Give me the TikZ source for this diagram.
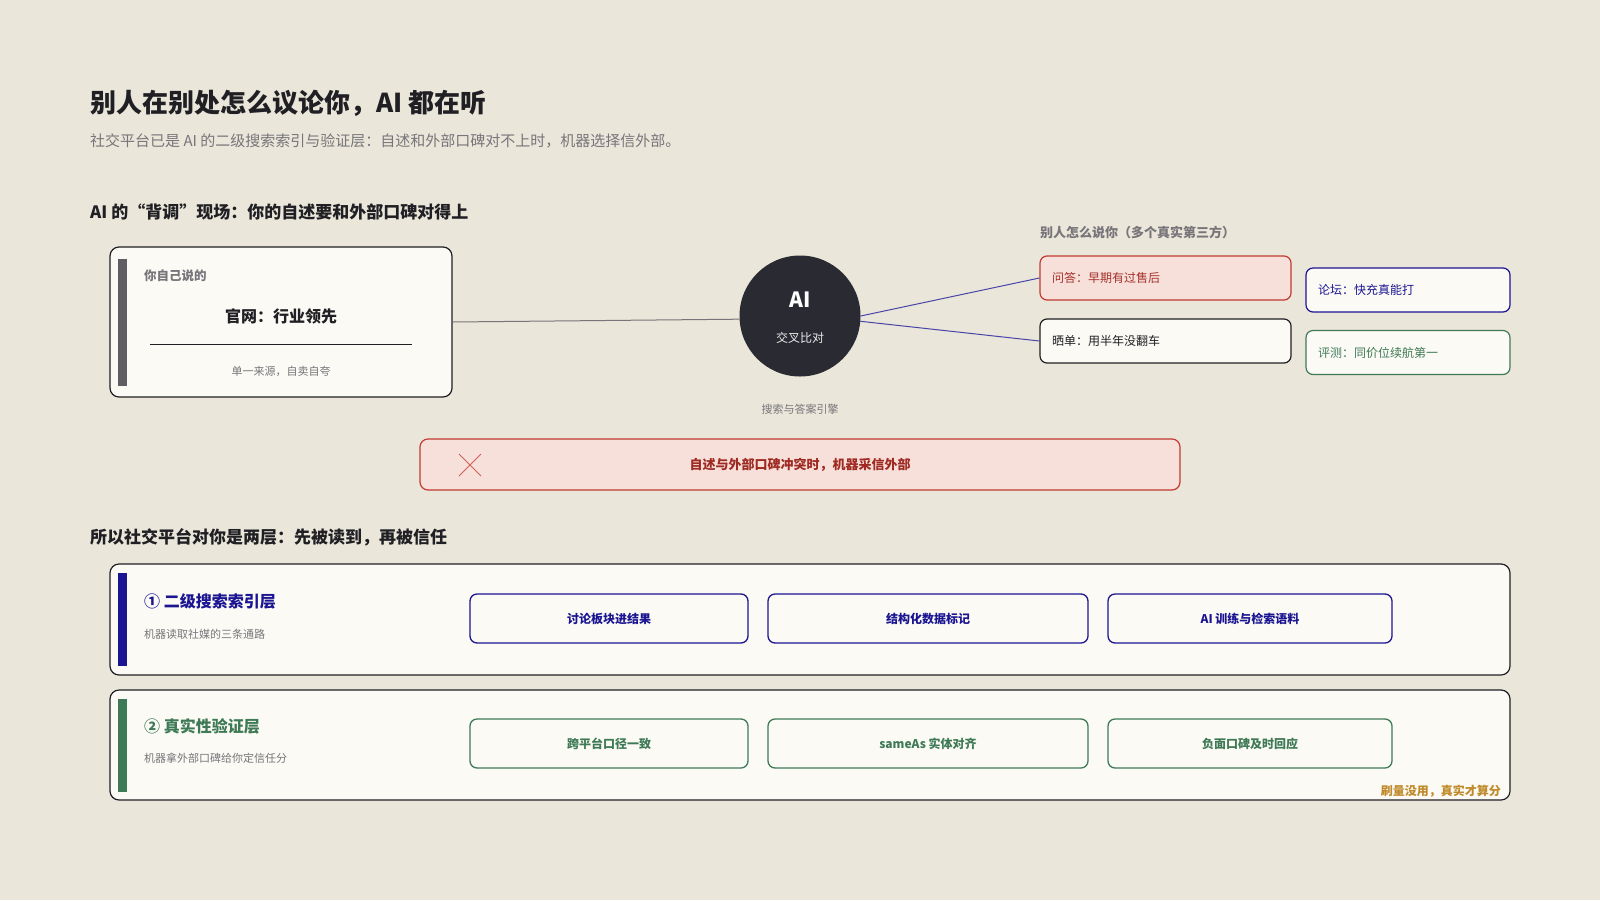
\documentclass[tikz,border=0pt]{standalone}
\usepackage{fontspec}
\setmainfont{Noto Sans CJK SC}
\definecolor{bg}{HTML}{EAE6DA}
\definecolor{card}{HTML}{FBFAF5}
\definecolor{ink}{HTML}{1F1F24}
\definecolor{muted}{HTML}{77757A}
\definecolor{bluec}{HTML}{1B1592}
\definecolor{greenc}{HTML}{3F7A56}
\definecolor{redc}{HTML}{C23A32}
\definecolor{redfill}{HTML}{F7DFDA}
\definecolor{redtext}{HTML}{9E2A22}
\definecolor{darkc}{HTML}{2A2A33}
\definecolor{barg}{HTML}{5F5E63}
\definecolor{gold}{HTML}{C08A2A}
\tikzset{
  card/.style={draw=ink, line width=1.2pt, fill=card, rounded corners=9pt, inner sep=0pt},
  pill/.style={line width=1.2pt, fill=card, rounded corners=7pt, inner sep=0pt, minimum height=44pt, font=\fontsize{12}{14}\selectfont},
  subbox/.style={line width=1.3pt, fill=card, rounded corners=7pt, inner sep=0pt, minimum height=49pt, font=\bfseries\fontsize{12}{14}\selectfont},
  lbl/.style={inner sep=0pt, anchor=west},
}
\begin{document}
\begin{tikzpicture}[x=1pt,y=-1pt]
\fill[bg] (0,0) rectangle (1600,900);
\useasboundingbox (0,0) rectangle (1600,900);

% titles
\node[lbl, font=\bfseries\fontsize{26}{30}\selectfont, text=ink] (title) at (90,103) {别人在别处怎么议论你，AI 都在听};
\node[lbl, font=\fontsize{15}{18}\selectfont, text=muted] (subtitle) at (90,141) {社交平台已是 AI 的二级搜索索引与验证层：自述和外部口碑对不上时，机器选择信外部。};
\node[lbl, font=\bfseries\fontsize{17}{20}\selectfont, text=ink] (h1) at (90,212) {AI 的“背调”现场：你的自述要和外部口碑对得上};

% left card
\node[card, minimum width=342pt, minimum height=150pt] (self) at (281,322) {};
\fill[barg] (118,259) rectangle (127,386);
\node[lbl, font=\bfseries\fontsize{12.5}{14}\selectfont, text=muted] (selflbl) at (144,276) {你自己说的};
\node[inner sep=0pt, font=\bfseries\fontsize{16}{19}\selectfont, text=ink] (selfmain) at (281,316) {官网：行业领先};
\draw[ink, line width=1pt] (150,344) -- (412,344);
\node[inner sep=0pt, font=\fontsize{11}{13}\selectfont, text=muted] (selfnote) at (281,371) {单一来源，自卖自夸};

% AI circle
\node[circle, fill=darkc, minimum size=121pt, inner sep=0pt] (ai) at (800,316) {};
\node[inner sep=0pt, font=\bfseries\fontsize{21}{24}\selectfont, text=white] (aititle) at (800,300) {AI};
\node[inner sep=0pt, font=\fontsize{12}{14}\selectfont, text=white!85!gray] (aisub) at (800,338) {交叉比对};
\node[inner sep=0pt, font=\fontsize{11}{13}\selectfont, text=muted] (aieng) at (800,409) {搜索与答案引擎};

% right side
\node[lbl, font=\bfseries\fontsize{13}{15}\selectfont, text=muted] (othershdr) at (1040,232) {别人怎么说你（多个真实第三方）};
\node[pill, draw=redc, fill=redfill, minimum width=251pt] (qa) at (1165.5,278) {};
\node[lbl, font=\fontsize{12}{14}\selectfont, text=redc!85!black] (qat) at (1052,278) {问答：早期有过售后};
\node[pill, draw=ink, minimum width=251pt] (sd) at (1165.5,341) {};
\node[lbl, font=\fontsize{12}{14}\selectfont, text=ink] (sdt) at (1052,341) {晒单：用半年没翻车};
\node[pill, draw=bluec, minimum width=204pt] (lt) at (1408,290) {};
\node[lbl, font=\fontsize{12}{14}\selectfont, text=bluec] (ltt) at (1318,290) {论坛：快充真能打};
\node[pill, draw=greenc, minimum width=204pt] (pc) at (1408,352.5) {};
\node[lbl, font=\fontsize{12}{14}\selectfont, text=greenc] (pct) at (1318,352.5) {评测：同价位续航第一};

% connectors
\draw[muted, line width=1pt] (self.east) -- (ai.183);
\draw[bluec!80!white, line width=1pt] (ai.0) -- (qa.west);
\draw[bluec!80!white, line width=1pt] (ai.-5) -- (sd.west);

% banner
\node[draw=redc, fill=redfill, line width=1.2pt, rounded corners=8pt, minimum width=760pt, minimum height=51pt, inner sep=0pt] (banner) at (800,464.5) {};
\coordinate (xc) at (470,465);
\draw[redc!80!white, line width=0.9pt] ([shift={(-11,-11)}]xc) -- ([shift={(11,11)}]xc);
\draw[redc!80!white, line width=0.9pt] ([shift={(-11,11)}]xc) -- ([shift={(11,-11)}]xc);
\node[inner sep=0pt, font=\bfseries\fontsize{13}{15}\selectfont, text=redtext] (bannert) at (800,465) {自述与外部口碑冲突时，机器采信外部};

% section 2
\node[lbl, font=\bfseries\fontsize{17}{20}\selectfont, text=ink] (h2) at (90,537) {所以社交平台对你是两层：先被读到，再被信任};

% layer 1
\node[card, minimum width=1400pt, minimum height=111pt] (l1) at (810,619.5) {};
\fill[bluec] (118,573) rectangle (127,666);
\node[lbl, font=\bfseries\fontsize{16}{19}\selectfont, text=bluec] (l1t) at (144,601) {① 二级搜索索引层};
\node[lbl, font=\fontsize{11}{13}\selectfont, text=muted] (l1s) at (144,634) {机器读取社媒的三条通路};
\node[subbox, draw=bluec, text=bluec, minimum width=278pt] (a1) at (609,618.5) {讨论板块进结果};
\node[subbox, draw=bluec, text=bluec, minimum width=320pt] (a2) at (928,618.5) {结构化数据标记};
\node[subbox, draw=bluec, text=bluec, minimum width=284pt] (a3) at (1250,618.5) {AI 训练与检索语料};

% layer 2
\node[card, minimum width=1400pt, minimum height=110pt] (l2) at (810,745) {};
\fill[greenc] (118,699) rectangle (127,792);
\node[lbl, font=\bfseries\fontsize{16}{19}\selectfont, text=greenc] (l2t) at (144,726) {② 真实性验证层};
\node[lbl, font=\fontsize{11}{13}\selectfont, text=muted] (l2s) at (144,758) {机器拿外部口碑给你定信任分};
\node[subbox, draw=greenc, text=greenc, minimum width=278pt] (b1) at (609,743.5) {跨平台口径一致};
\node[subbox, draw=greenc, text=greenc, minimum width=320pt] (b2) at (928,743.5) {sameAs 实体对齐};
\node[subbox, draw=greenc, text=greenc, minimum width=284pt] (b3) at (1250,743.5) {负面口碑及时回应};
\node[inner sep=0pt, anchor=east, font=\bfseries\fontsize{12}{14}\selectfont, text=gold] (note) at (1501,791) {刷量没用，真实才算分};
\end{tikzpicture}
\end{document}
